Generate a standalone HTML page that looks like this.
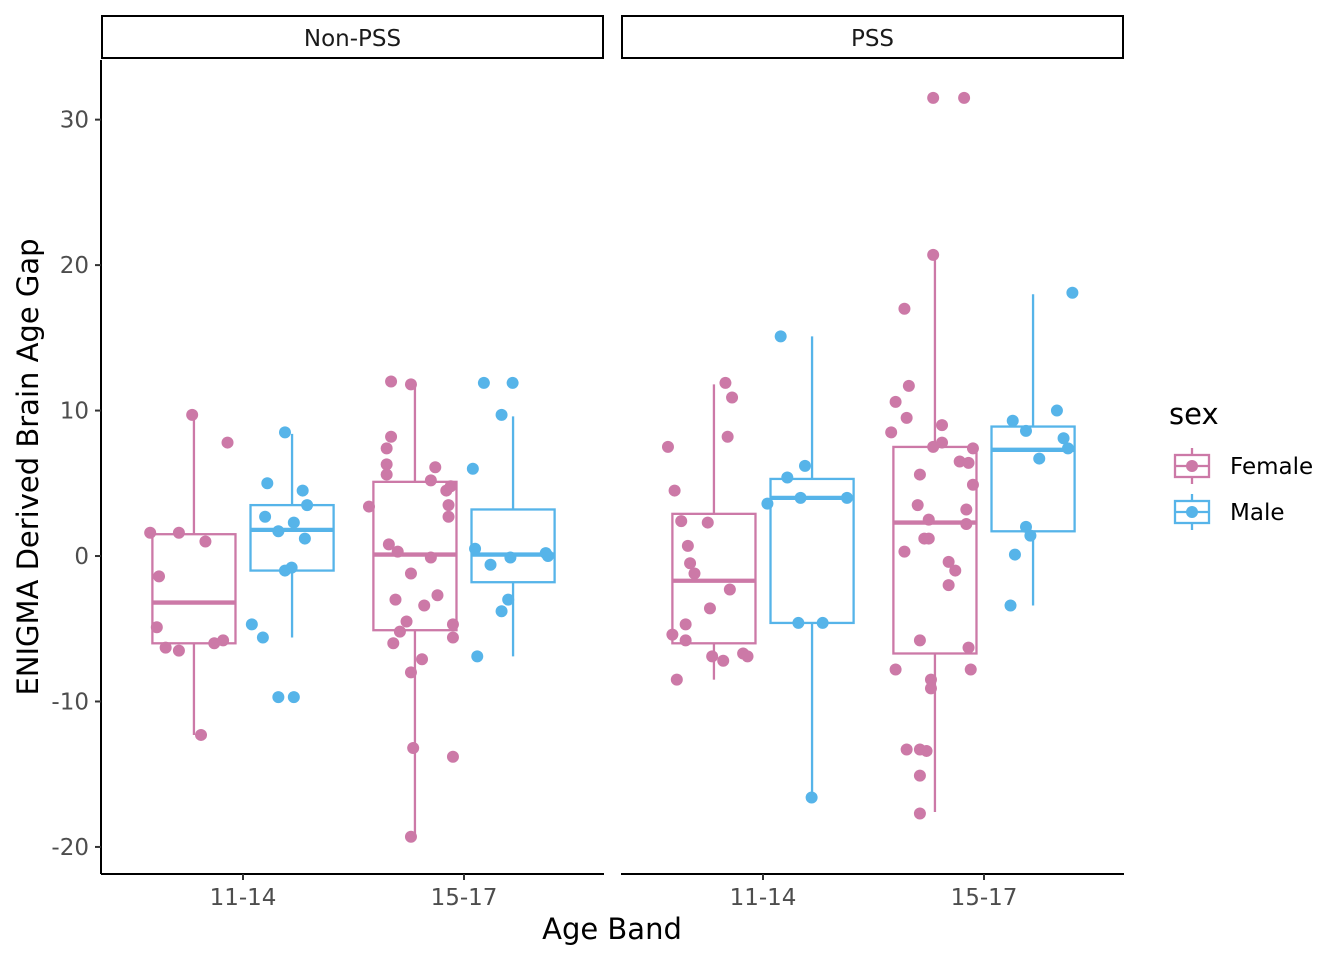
<!DOCTYPE html>
<html><head><meta charset="utf-8"><style>
body{margin:0;background:#fff}
svg{display:block;font-family:"DejaVu Sans","Liberation Sans",sans-serif}
</style></head><body>
<svg id="chart" width="1344" height="960" viewBox="0 0 1344 960"></svg>
<script>
const panels = ["Non-PSS","PSS"];
const categories = ["11-14","15-17"];
const sexes = ["Female","Male"];
const yTicks = [-20,-10,0,10,20,30];
// box stats: [panel, cat, sex, lowWhisker, q1, median, q3, highWhisker]
const boxStats = [
 [0,0,0,-12.3,-6.0,-3.2,1.5,9.6],
 [0,0,1,-5.6,-1.0,1.8,3.5,8.4],
 [0,1,0,-19.3,-5.1,0.1,5.1,11.9],
 [0,1,1,-6.9,-1.8,0.1,3.2,9.6],
 [1,0,0,-8.5,-6.0,-1.7,2.9,11.8],
 [1,0,1,-16.5,-4.6,4.0,5.3,15.1],
 [1,1,0,-17.6,-6.7,2.3,7.5,20.6],
 [1,1,1,-3.4,1.7,7.3,8.9,18.0]
];
const pts_0_0_0 = [[-0.42,1.6],[-0.38,-1.4],[-0.39,-4.9],[-0.35,-6.3],[-0.29,-6.5],[-0.29,1.6],[-0.23,9.7],[-0.19,-12.3],[-0.17,1.0],[-0.13,-6.0],[-0.09,-5.8],[-0.07,7.8]];
const pts_0_0_1 = [[0.04,-4.7],[0.09,-5.6],[0.10,2.7],[0.11,5.0],[0.16,1.7],[0.16,-9.7],[0.19,-1.0],[0.19,8.5],[0.22,-0.8],[0.23,2.3],[0.23,-9.7],[0.27,4.5],[0.28,1.2],[0.29,3.5]];
const pts_0_1_0 = [[-0.43,3.4],[-0.34,0.8],[-0.35,7.4],[-0.35,6.3],[-0.35,5.6],[-0.33,12.0],[-0.33,8.2],[-0.30,0.3],[-0.31,-3.0],[-0.29,-5.2],[-0.32,-6.0],[-0.26,-4.5],[-0.24,11.8],[-0.24,-1.2],[-0.24,-8.0],[-0.23,-13.2],[-0.19,-7.1],[-0.18,-3.4],[-0.15,5.2],[-0.15,-0.1],[-0.13,6.1],[-0.12,-2.7],[-0.08,4.5],[-0.07,3.5],[-0.07,2.7],[-0.06,4.8],[-0.05,-13.8],[-0.05,-4.7],[-0.05,-5.6],[-0.24,-19.3]];
const pts_0_1_1 = [[0.04,6.0],[0.05,0.5],[0.06,-6.9],[0.09,11.9],[0.12,-0.6],[0.17,9.7],[0.17,-3.8],[0.20,-3.0],[0.21,-0.1],[0.22,11.9],[0.37,0.2],[0.38,0.0]];
const pts_1_0_0 = [[-0.43,7.5],[-0.40,4.5],[-0.41,-5.4],[-0.39,-8.5],[-0.37,2.4],[-0.35,-4.7],[-0.35,-5.8],[-0.34,0.7],[-0.33,-0.5],[-0.31,-1.2],[-0.25,2.3],[-0.24,-3.6],[-0.23,-6.9],[-0.18,-7.2],[-0.17,11.9],[-0.16,8.2],[-0.15,-2.3],[-0.14,10.9],[-0.09,-6.7],[-0.07,-6.9]];
const pts_1_0_1 = [[0.02,3.6],[0.08,15.1],[0.11,5.4],[0.16,-4.6],[0.17,4.0],[0.19,6.2],[0.22,-16.6],[0.27,-4.6],[0.38,4.0]];
const pts_1_1_0 = [[-0.42,8.5],[-0.40,-7.8],[-0.40,10.6],[-0.36,17.0],[-0.36,0.3],[-0.35,-13.3],[-0.34,11.7],[-0.35,9.5],[-0.30,3.5],[-0.29,5.6],[-0.29,-5.8],[-0.29,-13.3],[-0.29,-15.1],[-0.29,-17.7],[-0.27,1.2],[-0.26,-13.4],[-0.25,2.5],[-0.25,1.2],[-0.24,-8.5],[-0.24,-9.1],[-0.23,31.5],[-0.23,20.7],[-0.23,7.5],[-0.19,7.8],[-0.19,9.0],[-0.16,-0.4],[-0.16,-2.0],[-0.13,-1.0],[-0.11,6.5],[-0.09,31.5],[-0.08,2.2],[-0.08,3.2],[-0.07,6.4],[-0.07,-6.3],[-0.06,-7.8],[-0.05,7.4],[-0.05,4.9]];
const pts_1_1_1 = [[0.12,-3.4],[0.13,9.3],[0.14,0.1],[0.19,2.0],[0.19,8.6],[0.21,1.4],[0.25,6.7],[0.33,10.0],[0.36,8.1],[0.38,7.4],[0.40,18.1]];
const groups = [[0,0,0,pts_0_0_0],[0,0,1,pts_0_0_1],[0,1,0,pts_0_1_0],[0,1,1,pts_0_1_1],[1,0,0,pts_1_0_0],[1,0,1,pts_1_0_1],[1,1,0,pts_1_1_0],[1,1,1,pts_1_1_1]];

const colors = ["#CC79A7","#56B4E9"];
const panelLeft = [101,621], panelW = 503, plotTop = 60, plotBot = 874;
const unit = 221, xMin = 1 - 142/221;
const yMin = -21.86, yMax = 34.1;
function X(p, v){ return panelLeft[p] + (v - xMin) * unit; }
function Y(v){ return plotBot - (v - yMin) / (yMax - yMin) * (plotBot - plotTop); }
const dodge = 0.222, halfW = 0.188;

const svg = document.getElementById('chart');
const NS = "http://www.w3.org/2000/svg";
function mk(tag, attrs, parent){ const e=document.createElementNS(NS,tag); for(const k in attrs) e.setAttribute(k,attrs[k]); (parent||svg).appendChild(e); return e; }

panels.forEach((name,p)=>{
  const g = mk('g',{});
  
  
  const strip = mk('rect',{x:panelLeft[p]+1,y:16,width:panelW-2,height:42,fill:'#fff',stroke:'#000','stroke-width':2},g);
  
  
  const st = mk('text',{x:panelLeft[p]+panelW/2,y:46,'text-anchor':'middle','font-size':23,fill:'#1a1a1a'},g);
  st.textContent = name;
  
  
  const xa = mk('line',{x1:panelLeft[p],x2:panelLeft[p]+panelW,y1:plotBot,y2:plotBot,stroke:'#000','stroke-width':2},g);
  
  
  categories.forEach((c,i)=>{
    const x = X(p,i+1);
    mk('line',{x1:x,x2:x,y1:plotBot,y2:plotBot+6,stroke:'#333','stroke-width':2},g);
    const t = mk('text',{x:x,y:905,'text-anchor':'middle','font-size':23,fill:'#4d4d4d'},g);
    t.textContent = c;
    
    
  });
});
const ya = mk('line',{x1:101,x2:101,y1:plotTop,y2:plotBot,stroke:'#000','stroke-width':2});


yTicks.forEach(v=>{
  const y = Y(v);
  mk('line',{x1:95,x2:101,y1:y,y2:y,stroke:'#333','stroke-width':2});
  const t = mk('text',{x:89,y:y+8,'text-anchor':'end','font-size':23,fill:'#4d4d4d'});
  t.textContent = v;
  
  
});

boxStats.forEach(b=>{
  const [p,c,s,lo,q1,md,q3,hi] = b;
  const col = colors[s];
  const cx = c+1 + (s===0?-dodge:dodge);
  const g = mk('g',{});
  
  
  const x = X(p,cx), x0 = X(p,cx-halfW), x1 = X(p,cx+halfW);
  mk('line',{x1:x,x2:x,y1:Y(hi),y2:Y(q3),stroke:col,'stroke-width':2.3},g);
  mk('line',{x1:x,x2:x,y1:Y(q1),y2:Y(lo),stroke:col,'stroke-width':2.3},g);
  mk('rect',{x:x0,y:Y(q3),width:x1-x0,height:Y(q1)-Y(q3),fill:'#fff',stroke:col,'stroke-width':2.3},g);
  mk('line',{x1:x0,x2:x1,y1:Y(md),y2:Y(md),stroke:col,'stroke-width':4.3},g);
});
groups.forEach(gr=>{
  const [p,c,s,pts] = gr;
  pts.forEach(pt=>{
    const d = mk('circle',{cx:X(p,c+1+pt[0]),cy:Y(pt[1]),r:6,fill:colors[s]});
    
    
  });
});

const xt = mk('text',{x:612,y:939,'text-anchor':'middle','font-size':29,fill:'#000'});
xt.textContent = 'Age Band';


const yt = mk('text',{x:0,y:0,'text-anchor':'middle','font-size':29,fill:'#000',transform:'translate(38,467) rotate(-90)'});
yt.textContent = 'ENIGMA Derived Brain Age Gap';



const lg = mk('g',{});


const lt = mk('text',{x:1169,y:424,'font-size':29,fill:'#000'},lg);
lt.textContent = 'sex';


sexes.forEach((s,i)=>{
  const cy = 466 + i*46, col = colors[i];
  const e = mk('g',{},lg);
  
  
  mk('line',{x1:1192,x2:1192,y1:cy-18,y2:cy+18,stroke:col,'stroke-width':2.3},e);
  mk('rect',{x:1175,y:cy-11,width:34,height:22,fill:'#fff',stroke:col,'stroke-width':2.3},e);
  mk('line',{x1:1175,x2:1209,y1:cy,y2:cy,stroke:col,'stroke-width':2.3},e);
  mk('circle',{cx:1192,cy:cy,r:6,fill:col},e);
  const t = mk('text',{x:1230,y:cy+8,'font-size':23,fill:'#000'},e);
  t.textContent = s;
});
</script>
</body></html>
